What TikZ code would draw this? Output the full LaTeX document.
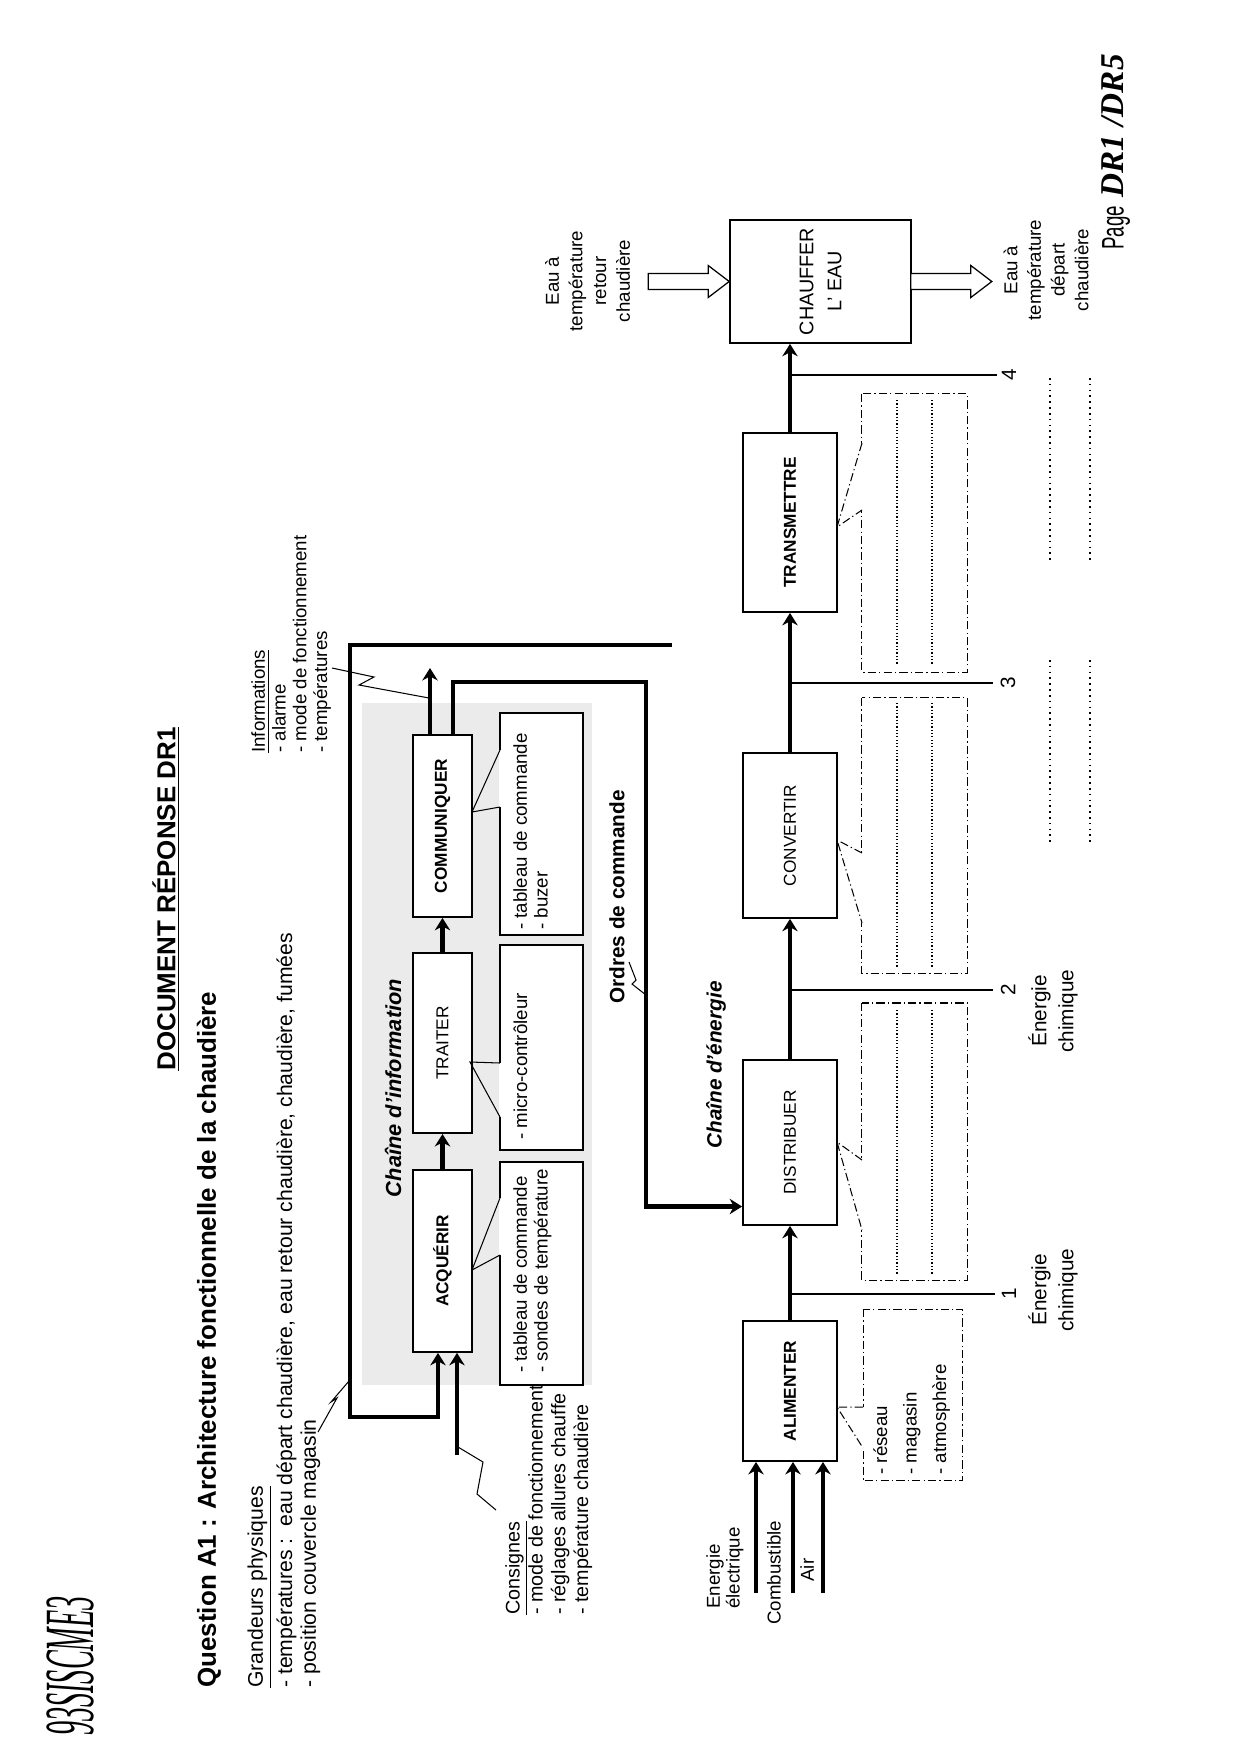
\documentclass[tikz,border=0pt]{standalone}
\usepackage{fontspec}
\setmainfont{Liberation Sans}
\newfontfamily\manuscrit{Liberation Serif}
\usetikzlibrary{arrows.meta,calc}

\tikzset{
  txt/.style={rotate=90, inner sep=0pt, font=\fontsize{9}{10}\selectfont},
  fct/.style={rotate=90, draw, line width=0.9pt, fill=white, inner sep=0pt, font=\fontsize{8.3}{10}\selectfont},
  fctb/.style={fct, font=\bfseries\fontsize{8.3}{10}\selectfont},
  bulle/.style={rotate=90, draw, line width=0.7pt, fill=white, inner sep=0pt},
  rep/.style={line width=0.5pt, dash pattern=on 4pt off 1.5pt on 0.6pt off 1.5pt},
  repbox/.style={rotate=90, draw, rep, inner sep=0pt},
  flux/.style={line width=2.2pt},
  fl/.style={flux, -{Stealth[length=2.1mm,width=2.6mm]}},
  fin/.style={line width=0.5pt},
  pointille/.style={line width=0.8pt, dotted},
}

% pointe d'une bulle : #2 sommet, #3 et #4 sur le bord de la bulle
\newcommand{\pointe}[4][fin]{%
  \fill[white] ($(#3)+(-1.2,0)$) rectangle ($(#4)+(1.5,0)$);
  \draw[#1] (#3) -- (#2) -- (#4);}

% fleche creuse vers la droite, #1 = pointe
\newcommand{\creuse}[1]{%
  \draw[line width=0.6pt, fill=white] (#1) -- ++(-21,-16) -- ++(0,8) -- ++(-60,0)
    -- ++(0,16) -- ++(60,0) -- ++(0,8) -- cycle;}

\begin{document}
\begin{tikzpicture}[x=0.1693mm, y=-0.1693mm]
\useasboundingbox (0,0) rectangle (1240,1754);

% en-tete
\node[txt, font=\bfseries\fontsize{12.5}{15}\selectfont] (titre) at (166,899) {\underline{DOCUMENT RÉPONSE DR1}};
\node[txt, anchor=west, font=\bfseries\fontsize{12.5}{15}\selectfont] (question) at (209,1688) {Question A1 : Architecture fonctionnelle de la chaudière};
\node[txt, anchor=north west, align=left, font=\fontsize{10.2}{11.5}\selectfont] (grandeurs) at (247,1688)
  {\underline{Grandeurs physiques}\\[1.5pt]- températures :\ \ eau départ chaudière, eau retour chaudière, chaudière, fumées\\- position couvercle magasin};
\node[txt, anchor=north west, align=left, font=\fontsize{9}{10}\selectfont] (infos) at (251,753)
  {\underline{Informations}\\- alarme\\- mode de fonctionnement\\- températures};
\node[txt, anchor=north west, align=left, font=\fontsize{9.5}{11}\selectfont] (consignes) at (505,1615)
  {\underline{Consignes}\\- mode de fonctionnement\\- réglages allures chauffe\\- température chaudière};
\node[txt, anchor=west, font=\fontsize{15}{15}\selectfont] (page) at (1116,250)
  {\scalebox{0.6}[1]{Page}\ {\manuscrit\itshape\bfseries\fontsize{16}{16}\selectfont DR1 /DR5}};
\node[txt, font=\manuscrit\itshape\fontsize{34}{34}\selectfont] (code) at (70,1666) {\scalebox{0.4}[1]{93SISCME3}};

% chaine d'information
\fill[gray!16] (362,703) rectangle (592,1385);
\node[txt, font=\bfseries\itshape\fontsize{10.5}{12}\selectfont] (chinfo) at (393,1088) {Chaîne d'information};

\node[fctb, minimum width=30.8mm, minimum height=10mm] (acq) at (442.5,1261) {ACQUÉRIR};
\node[fct, minimum width=30.5mm, minimum height=10mm] (trait) at (442.5,1043) {TRAITER};
\node[fctb, minimum width=30.8mm, minimum height=10mm] (comm) at (442.5,826) {COMMUNIQUER};

\node[bulle, minimum width=37.75mm, minimum height=14.05mm] (tab1) at (541.5,1273.5) {};
\node[txt, anchor=north west, align=left] (ttab1) at (513,1373) {- tableau de commande\\- sondes de température};
\node[bulle, minimum width=34.7mm, minimum height=14.05mm] (micro) at (541.5,1047.5) {};
\node[txt, anchor=north west, align=left] (tmicro) at (513,1140) {- micro-contrôleur};
\node[bulle, minimum width=37.6mm, minimum height=14.05mm] (tab2) at (541.5,824) {};
\node[txt, anchor=north west, align=left] (ttab2) at (513,930) {- tableau de commande\\- buzer};

\pointe{472,1270}{500,1198}{500,1255}
\pointe{470,1062}{500,1063}{500,1117}
\pointe{472,812}{500,750}{500,807}

\draw[fl] (acq.east) -- (trait.west);
\draw[fl] (trait.east) -- (comm.west);
\coordinate (infoout) at (430,668);
\draw[fl] (comm.east -| infoout) -- (infoout);

\coordinate (gp) at (672,645);
\draw[fl] (gp) -- (350,645) -- (350,1417) -| ($(acq.west)+(-4.5,0)$);
\coordinate (cons) at (457,1455);
\draw[fl] (cons) -- (cons |- acq.west);

\draw[fin] (332,668) -- (374,677) -- (359,685) -- (429,698);
\draw[fin] (458,1447) -- (483,1462) -- (477,1494) -- (496,1510);
\draw[fin] (318,1432) -- (337,1398) -- (331,1402) -- (349,1381);

% ordres de commande
\node[txt, font=\bfseries\fontsize{10}{12}\selectfont] (ordtxt) at (617,897) {Ordres de commande};
\draw[fin] (629,962) -- (636,980) -- (632,984) -- (646,995);

% chaine d'energie
\node[txt, font=\bfseries\itshape\fontsize{10}{12}\selectfont] (chener) at (716,1065) {Chaîne d'énergie};

\node[fctb, minimum width=23.7mm, minimum height=15.9mm] (alim) at (790,1391) {ALIMENTER};
\node[fct, minimum width=27.9mm, minimum height=15.9mm] (dist) at (790,1142.5) {DISTRIBUER};
\node[fct, minimum width=27.9mm, minimum height=15.9mm] (conv) at (790,835.5) {CONVERTIR};
\node[fctb, minimum width=30.3mm, minimum height=15.9mm] (trans) at (790,522.5) {TRANSMETTRE};
\node[fct, minimum width=20.8mm, minimum height=30.6mm, align=center, font=\fontsize{9.5}{13.5}\selectfont] (chauf) at (820.5,281.5) {CHAUFFER\\L' EAU};

\coordinate (distin) at ($(dist.north)+(0,64)$);
\draw[fl] ($(comm.east)+(10.5,0)$) |- (646,682) |- (distin);

\draw[fl] (alim.east) -- (dist.west);
\draw[fl] (dist.east) -- (conv.west);
\draw[fl] (conv.east) -- (trans.west);
\draw[fl] (trans.east) -- (trans.east |- chauf.west);

\coordinate (e1) at (756,1593);
\coordinate (e2) at (793,1593);
\coordinate (e3) at (823,1593);
\draw[fl] (e1) -- (e1 |- alim.west);
\draw[fl] (e2) -- (e2 |- alim.west);
\draw[fl] (e3) -- (e3 |- alim.west);
\node[txt, anchor=north west, align=left, font=\fontsize{9}{9.5}\selectfont] (elec) at (706,1609) {Energie\\électrique};
\node[txt, anchor=west] (comb) at (774,1625) {Combustible};
\node[txt, anchor=west] (air) at (807,1582) {Air};

% reperes
\draw[fin] (790,1294) -- (995,1294);
\draw[fin] (790,990) -- (993,990);
\draw[fin] (790,683) -- (993,683);
\draw[fin] (790,375) -- (997,375);
\node[txt, font=\fontsize{10}{12}\selectfont] (n1) at (1009,1294) {1};
\node[txt, font=\fontsize{10}{12}\selectfont] (n2) at (1008,990) {2};
\node[txt, font=\fontsize{10}{12}\selectfont] (n3) at (1008,683) {3};
\node[txt, font=\fontsize{10}{12}\selectfont] (n4) at (1009,375) {4};
\node[txt, align=center, font=\fontsize{10}{13}\selectfont] (ech1) at (1053,1290) {Énergie\\chimique};
\node[txt, align=center, font=\fontsize{10}{13}\selectfont] (ech2) at (1053,1011) {Énergie\\chimique};

% bulles de la chaine d'energie
\node[repbox, minimum width=29.1mm, minimum height=16.9mm] (res) at (913,1395) {};
\node[txt, anchor=north west, align=left, font=\fontsize{9}{14.2}\selectfont] (tres) at (873,1475) {- réseau\\- magasin\\- atmosphère};
\pointe[rep]{837,1407}{863,1407}{863,1448}

\node[repbox, minimum width=46.9mm, minimum height=17.8mm] (rdist) at (914.5,1141.5) {};
\node[repbox, minimum width=46.6mm, minimum height=17.8mm] (rconv) at (914.5,835.5) {};
\node[repbox, minimum width=47.1mm, minimum height=17.8mm] (rtrans) at (914.5,533) {};
\pointe[rep]{837,1142}{862,1160}{862,1230}
\pointe[rep]{837,840}{862,853}{862,923}
\pointe[rep]{837,527}{862,443}{862,510}

\draw[densely dotted, line width=0.6pt] (897,1010) -- (897,1275);
\draw[densely dotted, line width=0.6pt] (932,1010) -- (932,1275);
\draw[densely dotted, line width=0.6pt] (897,703) -- (897,968);
\draw[densely dotted, line width=0.6pt] (932,703) -- (932,968);
\draw[densely dotted, line width=0.6pt] (897,400) -- (897,665);
\draw[densely dotted, line width=0.6pt] (932,400) -- (932,665);

\draw[pointille] (1050,378) -- (1050,560);
\draw[pointille] (1090,378) -- (1090,560);
\draw[pointille] (1050,660) -- (1050,842);
\draw[pointille] (1090,660) -- (1090,842);

% eau
\creuse{chauf.north}
\creuse{$(chauf.south)+(80,0)$}
\node[txt, align=center, font=\fontsize{9}{11.4}\selectfont] (eauret) at (587.5,281) {Eau à\\température\\retour\\chaudière};
\node[txt, align=center, font=\fontsize{9}{11.4}\selectfont] (eaudep) at (1046,270) {Eau à\\température\\départ\\chaudière};

\end{tikzpicture}
\end{document}
